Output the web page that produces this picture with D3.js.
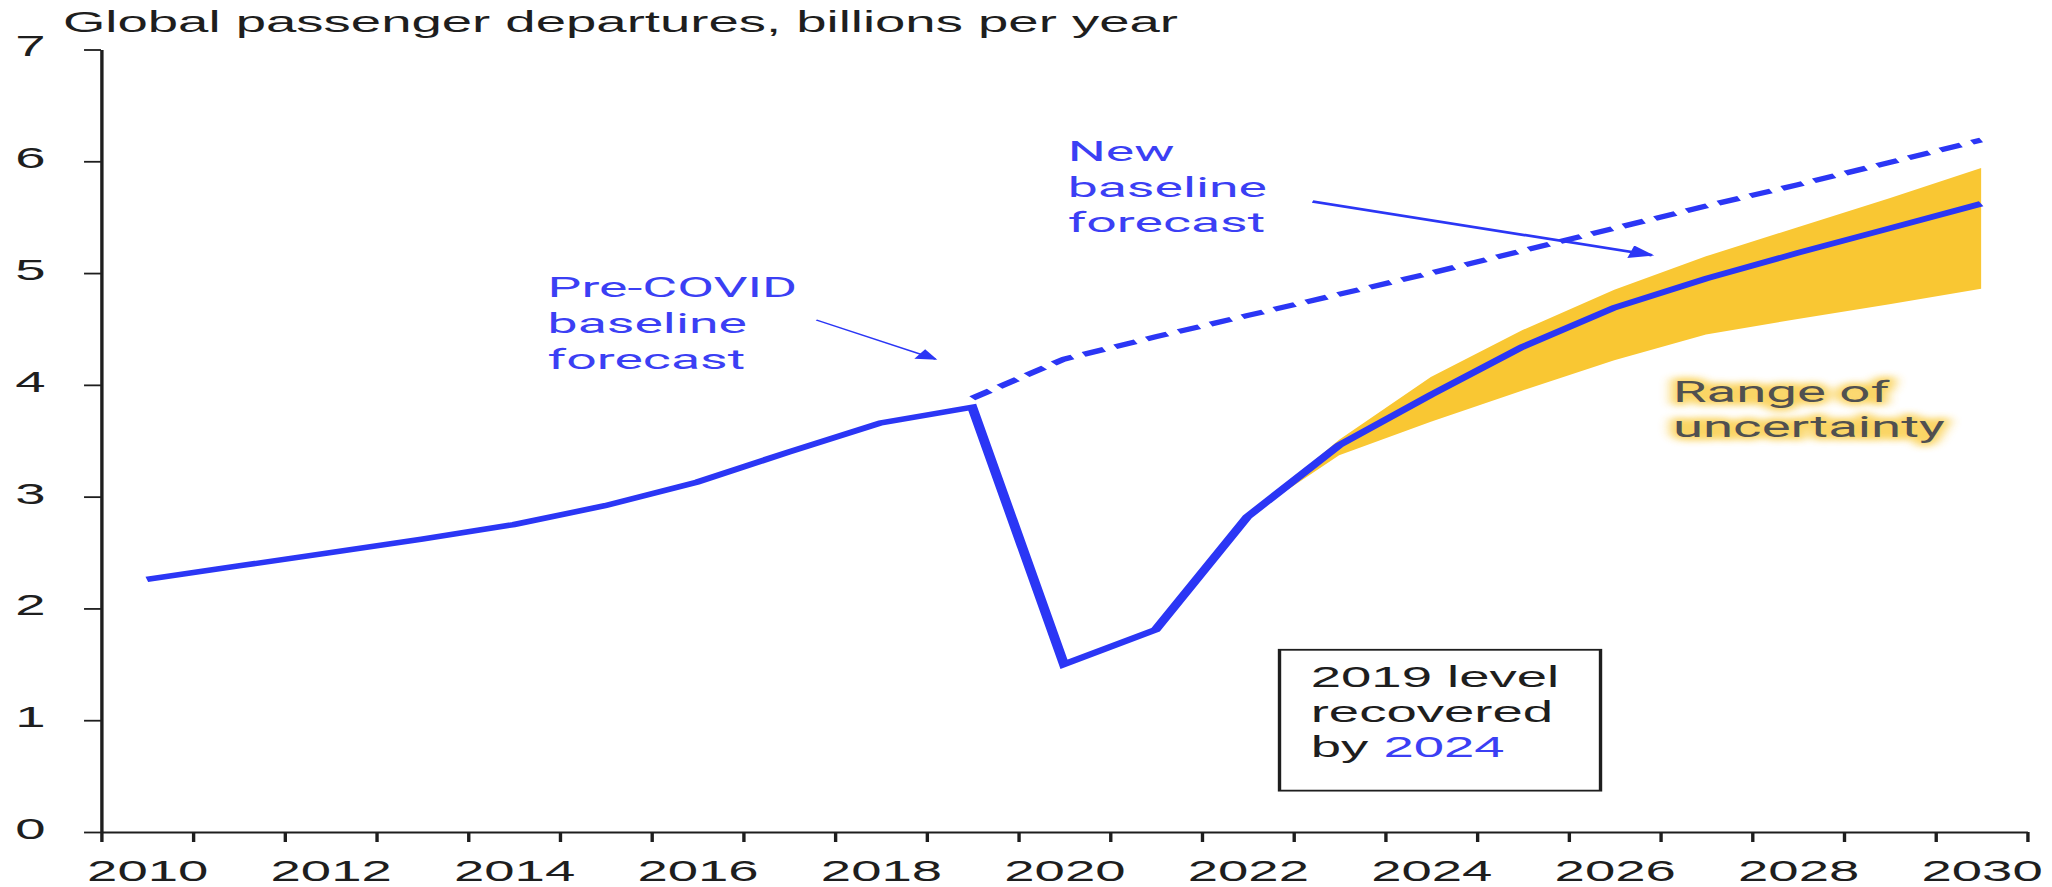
<!DOCTYPE html>
<html>
<head>
<meta charset="utf-8">
<script src="https://cdn.jsdelivr.net/npm/d3@7"></script>
<style>
  html, body { margin: 0; padding: 0; background: #ffffff; }
  svg { display: block; }
</style>
</head>
<body>
<script>
// ---- Data -------------------------------------------------------------
const years = [2010, 2011, 2012, 2013, 2014, 2015, 2016, 2017, 2018, 2019,
               2020, 2021, 2022, 2023, 2024, 2025, 2026, 2027, 2028, 2029, 2030];
// Actual departures to 2023, new baseline forecast after
const departures = [2.26, 2.38, 2.50, 2.62, 2.75, 2.92, 3.13, 3.40, 3.66, 3.80,
                    1.50, 1.81, 2.82, 3.46, 3.91, 4.34, 4.69, 4.95, 5.18, 5.40, 5.62];

const bandYears = [2022, 2023, 2024, 2025, 2026, 2027, 2028, 2029, 2030];
const bandUpper = [2.82, 3.51, 4.07, 4.49, 4.85, 5.15, 5.41, 5.67, 5.94];
const bandLower = [2.82, 3.37, 3.67, 3.95, 4.22, 4.45, 4.59, 4.72, 4.86];

const preCovidYears = [2019, 2020, 2021, 2022, 2023, 2024, 2025, 2026, 2027, 2028, 2029, 2030];
const preCovidBaseline = [3.88, 4.23, 4.43, 4.62, 4.81, 5.00, 5.20, 5.40, 5.60, 5.79, 5.99, 6.19];

const yTickValues = [0, 1, 2, 3, 4, 5, 6, 7];
const xLabelYears = [2010, 2012, 2014, 2016, 2018, 2020, 2022, 2024, 2026, 2028, 2030];
const xTickBounds = [2009.5, 2010.5, 2011.5, 2012.5, 2013.5, 2014.5, 2015.5, 2016.5,
                     2017.5, 2018.5, 2019.5, 2020.5, 2021.5, 2022.5, 2023.5, 2024.5,
                     2025.5, 2026.5, 2027.5, 2028.5, 2029.5, 2030.5];

const titleText = "Global passenger departures, billions per year";

// ---- Layout -----------------------------------------------------------
const W = 2052, H = 887;
const SX = 1.88;              // horizontal stretch of the whole drawing
const DW = W / SX;            // drawing width before stretch
const margin = { left: 53.7, right: 13.3, top: 49.5, bottom: 55 };

const BLUE = "#2b36f5";
const TEXT_BLUE = "#3b3ff4";
const GOLD = "#f9c733";
const INK = "#1e1e1e";
const SANS = "'Liberation Sans', Arial, sans-serif";
const ANNO = "Roboto, 'Liberation Sans', Arial, sans-serif";

const svg = d3.select("body").append("svg")
  .attr("width", W).attr("height", H)
  .attr("viewBox", `0 0 ${W} ${H}`);

const defs = svg.append("defs");
function arrowMarker(id, len, wid) {
  defs.append("marker")
    .attr("id", id)
    .attr("viewBox", "0 0 10 10")
    .attr("refX", 9).attr("refY", 5)
    .attr("markerUnits", "userSpaceOnUse")
    .attr("markerWidth", len).attr("markerHeight", wid)
    .attr("orient", "auto")
    .append("path").attr("d", "M0,0L10,5L0,10Z").attr("fill", BLUE);
}
arrowMarker("head-big", 18, 13);
arrowMarker("head-small", 14, 11);

const glow = defs.append("filter").attr("id", "glow")
  .attr("x", "-20%").attr("y", "-40%").attr("width", "140%").attr("height", "180%");
glow.append("feGaussianBlur").attr("stdDeviation", 3);

const g = svg.append("g").attr("transform", `scale(${SX},1)`);

const x = d3.scaleLinear().domain([2009.5, 2030.5]).range([margin.left, DW - margin.right]);
const y = d3.scaleLinear().domain([0, 7]).range([H - margin.bottom, margin.top]);

// ---- Title --------------------------------------------------------------
g.append("text")
  .attr("x", 33.5).attr("y", 32)
  .attr("font-family", SANS).attr("font-size", 29).attr("fill", INK)
  .text(titleText);

// ---- Axes -------------------------------------------------------------
const yAxis = g.append("g")
  .attr("transform", `translate(${x(2009.5)},0)`)
  .call(d3.axisLeft(y).tickValues(yTickValues).tickFormat(d3.format("d"))
    .tickSize(9).tickSizeOuter(0).tickPadding(20.5));

const xTicks = g.append("g")
  .attr("transform", `translate(0,${y(0)})`)
  .call(d3.axisBottom(x).tickValues(xTickBounds).tickSize(10).tickSizeOuter(0).tickFormat(""));

const xLabels = g.append("g")
  .attr("transform", `translate(0,${y(0)})`)
  .call(d3.axisBottom(x).tickValues(xLabelYears).tickSize(0).tickPadding(28).tickFormat(d3.format("d")));
xLabels.select(".domain").remove();

[yAxis, xTicks, xLabels].forEach(a => {
  a.selectAll("path, line").attr("stroke", INK).attr("stroke-width", 1.8);
  a.selectAll("text").attr("font-family", SANS).attr("font-size", 29).attr("fill", INK);
});
yAxis.selectAll("text").attr("dy", "0.22em");

// ---- Range of uncertainty band -----------------------------------------
const bandData = bandYears.map((yr, i) => ({ year: yr, lo: bandLower[i], hi: bandUpper[i] }));
g.append("path")
  .datum(bandData)
  .attr("fill", GOLD)
  .attr("d", d3.area().x(d => x(d.year)).y0(d => y(d.lo)).y1(d => y(d.hi)));

// ---- Lines ------------------------------------------------------------
const line = d3.line().x(d => x(d.year)).y(d => y(d.value));

g.append("path")
  .datum(preCovidYears.map((yr, i) => ({ year: yr, value: preCovidBaseline[i] })))
  .attr("fill", "none").attr("stroke", BLUE).attr("stroke-width", 5)
  .attr("stroke-dasharray", "12,6.5")
  .attr("d", line);

g.append("path")
  .datum(years.map((yr, i) => ({ year: yr, value: departures[i] })))
  .attr("fill", "none").attr("stroke", BLUE).attr("stroke-width", 5.4)
  .attr("stroke-linejoin", "miter").attr("stroke-miterlimit", 10)
  .attr("d", line);

// ---- Annotations --------------------------------------------------------
function multiline(sel, lines, lh) {
  lines.forEach((t, i) => {
    sel.append("tspan").attr("x", sel.attr("x")).attr("dy", i === 0 ? 0 : lh).text(t);
  });
}

// New baseline forecast
const newLabel = g.append("text")
  .attr("x", x(2020.04)).attr("y", y(6.0))
  .attr("font-family", ANNO).attr("font-size", 28.5).attr("fill", TEXT_BLUE);
multiline(newLabel, ["New", "baseline", "forecast"], 35.5);

g.append("line")
  .attr("x1", x(2022.71)).attr("y1", y(5.64))
  .attr("x2", x(2026.41)).attr("y2", y(5.16))
  .attr("stroke", BLUE).attr("stroke-width", 2.6)
  .attr("marker-end", "url(#head-big)");

// Pre-COVID baseline forecast
const preLabel = g.append("text")
  .attr("x", x(2014.37)).attr("y", y(4.79))
  .attr("font-family", ANNO).attr("font-size", 28.5).attr("fill", TEXT_BLUE);
multiline(preLabel, ["Pre-COVID", "baseline", "forecast"], 36);

g.append("line")
  .attr("x1", x(2017.3)).attr("y1", y(4.58))
  .attr("x2", x(2018.6)).attr("y2", y(4.23))
  .attr("stroke", BLUE).attr("stroke-width", 1.3)
  .attr("marker-end", "url(#head-small)");

// Recovery call-out box
g.append("rect")
  .attr("x", x(2022.35)).attr("y", y(1.63))
  .attr("width", x(2025.85) - x(2022.35)).attr("height", y(0.37) - y(1.63))
  .attr("fill", "#ffffff").attr("stroke", INK).attr("stroke-width", 1.8);

const boxText = g.append("text")
  .attr("x", x(2022.69)).attr("y", y(1.30))
  .attr("font-family", SANS).attr("font-size", 29).attr("fill", INK);
boxText.append("tspan").attr("x", x(2022.69)).text("2019 level");
boxText.append("tspan").attr("x", x(2022.69)).attr("dy", 35).text("recovered");
boxText.append("tspan").attr("x", x(2022.69)).attr("dy", 35).text("by ");
boxText.append("tspan").attr("fill", TEXT_BLUE).text("2024");

// Range of uncertainty, with a soft gold halo
const rangeLines = ["Range of", "uncertainty"];
const halo = g.append("text")
  .attr("x", x(2026.64)).attr("y", y(3.85))
  .attr("font-family", ANNO).attr("font-size", 29)
  .attr("fill", GOLD).attr("stroke", GOLD).attr("stroke-width", 7)
  .attr("stroke-linejoin", "round").attr("opacity", 0.75)
  .attr("filter", "url(#glow)");
multiline(halo, rangeLines, 35.5);
const rangeLabel = g.append("text")
  .attr("x", x(2026.64)).attr("y", y(3.85))
  .attr("font-family", ANNO).attr("font-size", 29).attr("fill", "#505050");
multiline(rangeLabel, rangeLines, 35.5);
</script>
</body>
</html>
